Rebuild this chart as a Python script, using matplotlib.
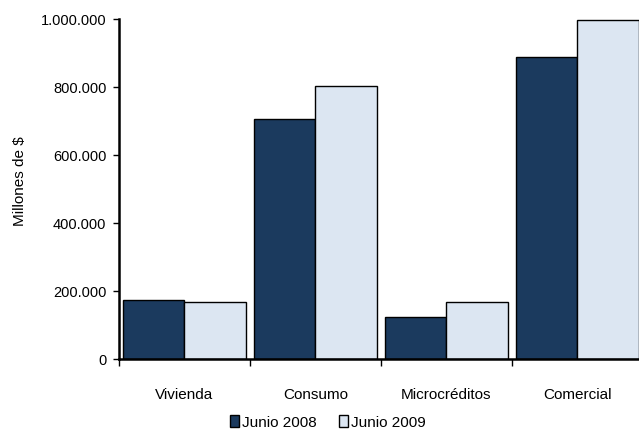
import numpy as np
import matplotlib
matplotlib.use("Agg")
import matplotlib.pyplot as plt
from matplotlib.ticker import FuncFormatter

categories = ['Vivienda', 'Consumo', 'Microcréditos', 'Comercial']
junio_2008 = [172000, 705000, 123000, 888000]
junio_2009 = [168000, 802000, 168000, 998000]
series_labels = ['Junio 2008', 'Junio 2009']

plt.rcParams['font.family'] = ['Liberation Sans', 'DejaVu Sans']
fs = 10.5

fig = plt.figure(figsize=(6.39, 4.31), dpi=100)
ax = fig.add_axes([0.186, 0.165, 0.82, 0.789])

x = np.arange(len(categories))
w = 0.47
ax.bar(x - w / 2, junio_2008, w, color='#1B3A5E', edgecolor='black', linewidth=1.0, label=series_labels[0])
ax.bar(x + w / 2, junio_2009, w, color='#DCE6F2', edgecolor='black', linewidth=1.0, label=series_labels[1])

ax.set_xlim(-0.5, len(categories) - 0.5)
ax.set_ylim(0, 1000000)
ax.set_yticks(np.arange(0, 1000001, 200000))
ax.yaxis.set_major_formatter(FuncFormatter(lambda v, p: f'{int(v):,}'.replace(',', '.')))

# category labels between boundary ticks
ax.set_xticks(np.arange(-0.5, len(categories), 1.0))
ax.set_xticklabels([])
ax.set_xticks(x, minor=True)
ax.set_xticklabels(categories, minor=True, fontsize=fs + 0.5)
ax.tick_params(axis='x', which='minor', length=0, pad=20)
ax.tick_params(axis='x', which='major', length=5, width=1, direction='out')
ax.tick_params(axis='y', length=4, width=1, direction='out', labelsize=fs, pad=5)

for s in ['top', 'right']:
    ax.spines[s].set_visible(False)
ax.spines['left'].set_linewidth(1.8)
ax.spines['bottom'].set_linewidth(1.8)

ax.set_ylabel('Millones de $', fontsize=fs + 0.5)
ax.yaxis.set_label_coords(-0.176, 0.526)

fig.legend(loc='center', bbox_to_anchor=(0.513, 0.018), ncol=2, frameon=False,
           fontsize=fs + 0.5, handlelength=0.6, handleheight=0.8, handletextpad=0.2,
           columnspacing=1.4)

fig.savefig('out.png', dpi=100)
